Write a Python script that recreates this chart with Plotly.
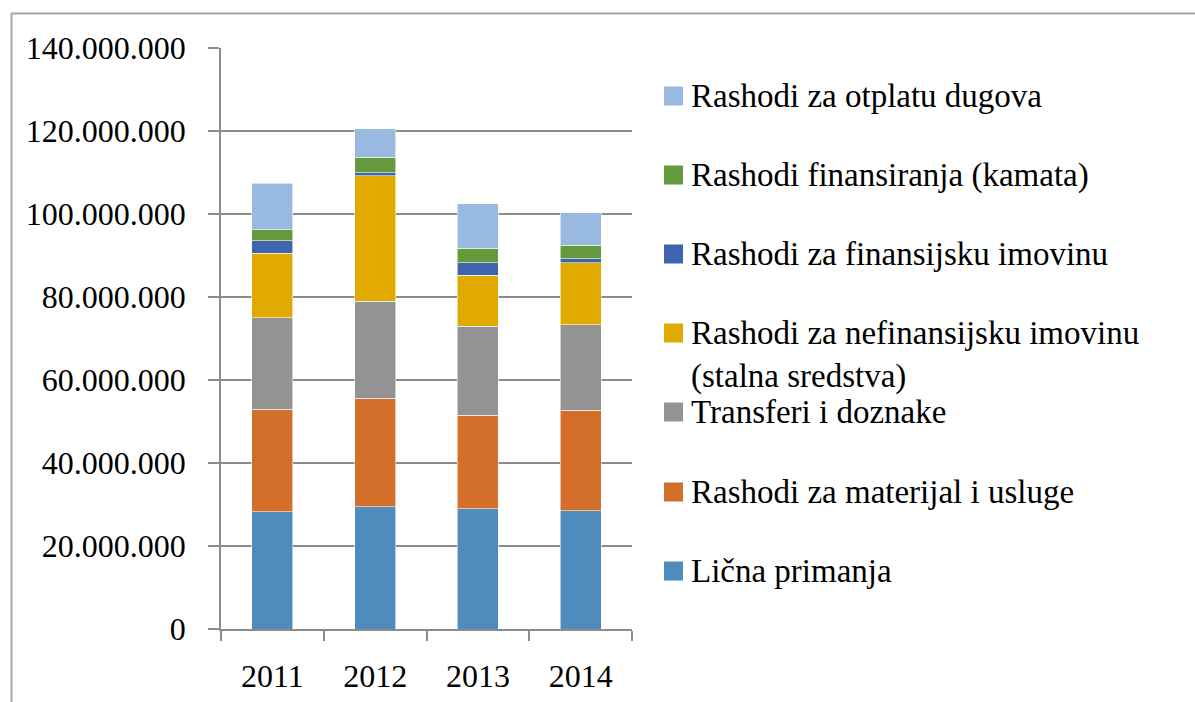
"""
Stacked bar chart of expenditures by year (2011-2014)
"""
import plotly.graph_objects as go

# Data
years = ["2011", "2012", "2013", "2014"]

licna_primanja = [28.3e6, 29.5e6, 29.0e6, 28.5e6]
materijal_usluge = [24.6e6, 26.1e6, 22.5e6, 24.2e6]
transferi_doznake = [22.1e6, 23.4e6, 21.4e6, 20.6e6]
nefinansijska_imovina = [15.6e6, 30.2e6, 12.4e6, 14.9e6]
finansijska_imovina = [3.0e6, 0.8e6, 3.0e6, 1.0e6]
kamata = [2.6e6, 3.7e6, 3.5e6, 3.3e6]
otplata_dugova = [11.2e6, 6.8e6, 10.7e6, 7.8e6]

series_names = [
    "Lična primanja",
    "Rashodi za materijal i usluge",
    "Transferi i doznake",
    "Rashodi za nefinansijsku imovinu<br>(stalna sredstva)",
    "Rashodi za finansijsku imovinu",
    "Rashodi finansiranja (kamata)",
    "Rashodi za otplatu dugova",
]
series_values = [
    licna_primanja,
    materijal_usluge,
    transferi_doznake,
    nefinansijska_imovina,
    finansijska_imovina,
    kamata,
    otplata_dugova,
]
colors = ["#508bbe", "#d36f2b", "#939393", "#e0aa00", "#3d64ad", "#629a3d", "#98b9e0"]

FONT = "Liberation Serif, Times New Roman, serif"
W, H = 1195, 702
L, R, T, B = 221, 632, 48, 629  # plot area in pixels


def px_x(x):
    return (x - L) / (R - L)


def px_y(y):
    return (B - y) / (B - T)


fig = go.Figure()

for name, vals, col in zip(series_names, series_values, colors):
    fig.add_trace(go.Bar(
        x=years, y=vals, name=name,
        marker=dict(color=col, line=dict(color="rgba(255,255,255,0.7)", width=0.8)),
        showlegend=False,
    ))

# manual legend (top entry = last series), square swatches like the original
legend_rows = [571, 492, 412, 333, 254, 175, 96]
for name, col, yc in zip(series_names, colors, legend_rows):
    fig.add_shape(type="rect", xref="paper", yref="paper",
                  x0=px_x(664), x1=px_x(683), y0=px_y(yc + 9.5), y1=px_y(yc - 9.5),
                  fillcolor=col, line_width=0)
    yanchor, ypos = "middle", yc
    if "<br>" in name:
        yanchor, ypos = "top", yc - 20
    fig.add_annotation(xref="paper", yref="paper", x=px_x(689), y=px_y(ypos),
                       text=name, showarrow=False, xanchor="left", yanchor=yanchor,
                       align="left", font=dict(family=FONT, size=33, color="black"))

# outer frame of the chart area (left and top edges)
fig.add_shape(type="line", xref="paper", yref="paper",
              x0=px_x(11.5), x1=px_x(11.5), y0=px_y(13), y1=px_y(702),
              line=dict(color="#a6a6a6", width=2))
fig.add_shape(type="line", xref="paper", yref="paper",
              x0=px_x(11), x1=px_x(1195), y0=px_y(13.5), y1=px_y(13.5),
              line=dict(color="#a6a6a6", width=2))

# bits of the clipped title above the frame (only their lowest parts show)
fig.add_annotation(xref="paper", yref="paper", x=px_x(530), y=px_y(2.5), text="p",
                   showarrow=False, yanchor="bottom",
                   font=dict(family=FONT, size=34, color="black"))
fig.add_annotation(xref="paper", yref="paper", x=px_x(610), y=px_y(2.5), text=",",
                   showarrow=False, yanchor="bottom",
                   font=dict(family=FONT, size=34, color="black"))

fig.update_layout(
    width=W, height=H,
    barmode="stack", bargap=0.6,
    separators=",.",
    margin=dict(l=L, r=W - R, t=T, b=H - B, pad=0),
    paper_bgcolor="white", plot_bgcolor="white",
    font=dict(family=FONT, size=32, color="black"),
    showlegend=False,
)
fig.update_xaxes(
    showline=True, linecolor="#8c8c8c", linewidth=1.5,
    ticks="outside", tickson="boundaries", ticklen=10, tickcolor="#8c8c8c", tickwidth=1.5,
    ticklabelstandoff=18, showgrid=False, automargin=False,
)
fig.update_yaxes(
    range=[0, 140e6], tickvals=[i * 20e6 for i in range(8)], tickformat=",d",
    showline=True, linecolor="#8c8c8c", linewidth=1.5,
    ticks="outside", ticklen=11, tickcolor="#8c8c8c", tickwidth=1.5,
    ticklabelstandoff=16, automargin=False,
    showgrid=True, gridcolor="#8c8c8c", gridwidth=1.5, zeroline=False,
)

# drop the default page margin so the figure sits at the window's top-left corner
fig.write_html("out.html", config={"displayModeBar": False},
               post_script="document.body.style.margin='0';")
